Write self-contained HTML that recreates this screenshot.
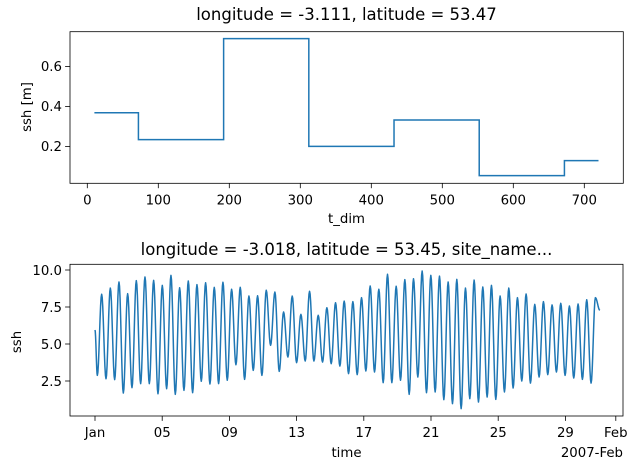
<!DOCTYPE html>
<html><head><meta charset="utf-8"><style>
html,body{margin:0;padding:0;background:#fff;}
svg{display:block;font-family:"DejaVu Sans","Liberation Sans",sans-serif;}
</style></head><body>
<svg id="fig" width="637" height="469" viewBox="0 0 637 469" xmlns="http://www.w3.org/2000/svg">
<rect width="637" height="469" fill="#fff"/>
<g id="topchart"></g>
<g id="botchart"></g>
</svg>
<script>
// ---- top chart data ----
const stepEdges = [10, 72, 192, 312, 432, 552, 672, 720];
const stepValues = [0.368, 0.234, 0.739, 0.200, 0.332, 0.054, 0.129];
const topXTicks = [0, 100, 200, 300, 400, 500, 600, 700];
const topYTicks = [0.2, 0.4, 0.6];
// ---- bottom chart data ----
const tideStartDay = 0;
const tideStartValue = 5.95;
const tideFirstExtremeDay = 0.139;
const tideHalfPeriodDay = 0.2578;
const tideEndDay = 30.05;
const tideEndValue = 7.28;
const tideExtremes = [2.88,8.36,2.65,8.78,2.59,9.19,1.69,8.4,2.05,9.28,2.32,9.53,2.32,9.3,1.64,8.96,1.98,9.64,1.6,8.8,1.87,9.26,1.71,9.01,2.48,9.14,2.3,8.83,2.32,9.17,2.55,8.7,3.6,8.83,2.61,8.24,3.22,8.26,2.88,
8.63,4.91,8.51,3.15,7.16,4.12,8.24,3.74,7.0,3.85,8.56,3.85,6.94,3.78,7.45,3.67,7.79,3.51,7.9,3.0,7.86,2.93,8.13,3.18,8.92,3.11,8.7,2.39,9.71,2.39,8.9,2.55,9.35,1.6,9.41,2.77,9.93,1.71,9.64,1.76,9.59,
1.24,9.19,0.97,9.37,0.63,8.78,1.31,9.32,1.08,8.85,1.42,8.96,1.26,8.24,1.76,8.78,2.03,8.13,2.5,8.38,2.36,7.68,2.77,7.86,2.93,7.64,3.11,7.75,2.88,7.57,2.7,7.7,2.61,7.99,2.36,8.13];
const botXTickDays = [0, 4, 8, 12, 16, 20, 24, 28, 31];
const botXTickLabels = ["Jan","05","09","13","17","21","25","29","Feb"];
const botYTicks = [2.5, 5.0, 7.5, 10.0];

const NS = "http://www.w3.org/2000/svg";
function mk(parent, tag, attrs, text){
  const e = document.createElementNS(NS, tag);
  for (const k in attrs) e.setAttribute(k, attrs[k]);
  if (text !== undefined) e.textContent = text;
  parent.appendChild(e);
  return e;
}
const BLUE = "#1f77b4";

// ---------- TOP ----------
const T = {l:70, r:623.3, t:31.7, b:183.3};
const tx = v => 87.3 + v * 0.71;
const ty = v => 146.4 - (v - 0.2) * 200;
const topG = document.getElementById('topchart');
let t = mk(topG,'text',{x:346.5,y:20,'text-anchor':'middle','font-size':'16.5',fill:'#000'},'longitude = -3.111, latitude = 53.47');


topXTicks.forEach(v=>{
  const g = mk(topG,'g',{});
  
  
  mk(g,'line',{x1:tx(v),x2:tx(v),y1:T.b,y2:T.b+4.9,stroke:'#000','stroke-width':0.8});
  mk(g,'text',{x:tx(v),y:T.b+21,'text-anchor':'middle','font-size':'13.3'},String(v));
});
topYTicks.forEach(v=>{
  const g = mk(topG,'g',{});
  
  
  mk(g,'line',{x1:T.l-4.9,x2:T.l,y1:ty(v),y2:ty(v),stroke:'#000','stroke-width':0.8});
  mk(g,'text',{x:T.l-8,y:ty(v)+4.8,'text-anchor':'end','font-size':'13.3'},v.toFixed(1));
});
let d = '';
stepValues.forEach((v,i)=>{
  d += (i===0?'M':'L') + tx(stepEdges[i]) + ',' + ty(v) + ' L' + tx(stepEdges[i+1]) + ',' + ty(v) + ' ';
});
let p = mk(topG,'path',{d:d,fill:'none',stroke:BLUE,'stroke-width':1.5});


let fr = mk(topG,'rect',{x:T.l,y:T.t,width:T.r-T.l,height:T.b-T.t,fill:'none',stroke:'#000','stroke-width':0.8});


t = mk(topG,'text',{x:346.5,y:223,'text-anchor':'middle','font-size':'13.3'},'t_dim');


t = mk(topG,'text',{x:0,y:0,'text-anchor':'middle','font-size':'13.3',transform:'translate(31,107) rotate(-90)'},'ssh [m]');



// ---------- BOTTOM ----------
const B = {l:70, r:623, t:264.3, b:416};
const bx = day => 95 + day * 16.8;
const by = v => 270 + (10 - v) * 14.8;
const botG = document.getElementById('botchart');
t = mk(botG,'text',{x:346.5,y:255,'text-anchor':'middle','font-size':'16.5'},'longitude = -3.018, latitude = 53.45, site_name...');


botXTickDays.forEach((dd,i)=>{
  const g = mk(botG,'g',{});
  
  
  mk(g,'line',{x1:bx(dd),x2:bx(dd),y1:B.b,y2:B.b+4.9,stroke:'#000','stroke-width':0.8});
  mk(g,'text',{x:bx(dd),y:B.b+21,'text-anchor':'middle','font-size':'13.3'},botXTickLabels[i]);
});
botYTicks.forEach(v=>{
  const g = mk(botG,'g',{});
  
  
  mk(g,'line',{x1:B.l-4.9,x2:B.l,y1:by(v),y2:by(v),stroke:'#000','stroke-width':0.8});
  mk(g,'text',{x:B.l-8,y:by(v)+4.8,'text-anchor':'end','font-size':'13.3'},v.toFixed(1));
});
const knots = [[tideStartDay, tideStartValue]];
tideExtremes.forEach((v,i)=>knots.push([tideFirstExtremeDay + i*tideHalfPeriodDay, v]));
knots.push([tideEndDay, tideEndValue]);
let pts = [];
for (let k=0;k<knots.length-1;k++){
  const d0=knots[k][0], v0=knots[k][1], d1=knots[k+1][0], v1=knots[k+1][1];
  const n=8;
  for (let j=(k===0?0:1);j<=n;j++){
    const f=j/n, w=(1-Math.cos(Math.PI*f))/2;
    pts.push(bx(d0+(d1-d0)*f).toFixed(2)+','+by(v0+(v1-v0)*w).toFixed(2));
  }
}
p = mk(botG,'polyline',{points:pts.join(' '),fill:'none',stroke:BLUE,'stroke-width':1.5,'stroke-linejoin':'round'});


fr = mk(botG,'rect',{x:B.l,y:B.t,width:B.r-B.l,height:B.b-B.t,fill:'none',stroke:'#000','stroke-width':0.8});


t = mk(botG,'text',{x:346.5,y:457,'text-anchor':'middle','font-size':'13.3'},'time');


t = mk(botG,'text',{x:B.r,y:457,'text-anchor':'end','font-size':'13.3'},'2007-Feb');


t = mk(botG,'text',{x:0,y:0,'text-anchor':'middle','font-size':'13.3',transform:'translate(21,342) rotate(-90)'},'ssh');


</script>
</body></html>
